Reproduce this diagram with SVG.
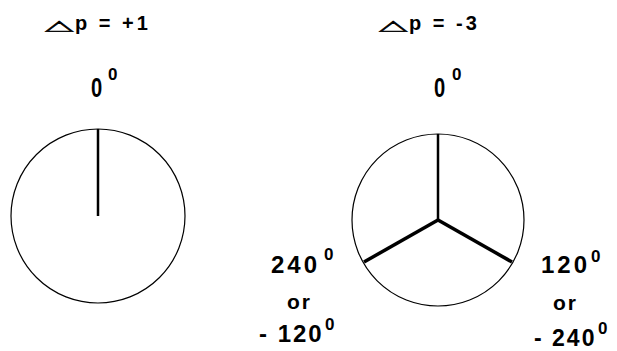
<svg xmlns="http://www.w3.org/2000/svg" width="617" height="351" viewBox="0 0 617 351">
<style>
.t{font-family:"Liberation Sans",Arial,sans-serif;font-weight:bold;fill:#000}
.h{font-size:20px;letter-spacing:3px}
.d{font-size:24px;letter-spacing:3px}
.n{font-size:24px;letter-spacing:2px}
.z{font-size:28px}
.s{font-size:17px}
.o{font-size:21px;letter-spacing:2px}
.tri{font-family:"DejaVu Sans",sans-serif;font-weight:bold;font-size:20px;stroke:#000;stroke-width:0.6}
.c{fill:#fff;stroke:#000;stroke-width:1.2}
.sp{stroke:#000;stroke-width:2.5;stroke-linecap:butt}
.sp2{stroke:#000;stroke-width:3.5;stroke-linecap:butt}
</style>
<rect width="617" height="351" fill="#fff"/>
<g id="left">
  <text class="tri" transform="translate(45,30) scale(1.85,0.7)">△</text>
  <text class="t h" x="75" y="30">p = +1</text>
  <text class="t z" transform="translate(91,97) scale(0.72,1)">0</text>
  <text class="t s" x="108" y="80">0</text>
  <circle class="c" cx="98" cy="216" r="87"/>
  <line class="sp" x1="98" y1="129" x2="98" y2="216"/>
</g>
<g id="right">
  <text class="tri" transform="translate(379,30) scale(1.85,0.7)">△</text>
  <text class="t h" x="409" y="30">p = -3</text>
  <text class="t z" transform="translate(434,97) scale(0.72,1)">0</text>
  <text class="t s" x="452" y="80">0</text>
  <circle class="c" cx="438" cy="220" r="86"/>
  <line class="sp" x1="438" y1="134" x2="438" y2="220"/>
  <line class="sp2" x1="438" y1="220" x2="364" y2="262"/>
  <line class="sp2" x1="438" y1="220" x2="512" y2="262"/>
</g>
<g id="label240">
  <text class="t d" x="271" y="273">240</text>
  <text class="t s" x="324" y="260">0</text>
  <text class="t o" x="287" y="309">or</text>
  <text class="t n" x="259" y="342">- 120</text>
  <text class="t s" x="325" y="330">0</text>
</g>
<g id="label120">
  <text class="t d" x="541" y="273">120</text>
  <text class="t s" x="591" y="262">0</text>
  <text class="t o" x="553" y="310">or</text>
  <text class="t n" x="534" y="346" style="font-size:23px">- 240</text>
  <text class="t s" x="598" y="334">0</text>
</g>
</svg>
